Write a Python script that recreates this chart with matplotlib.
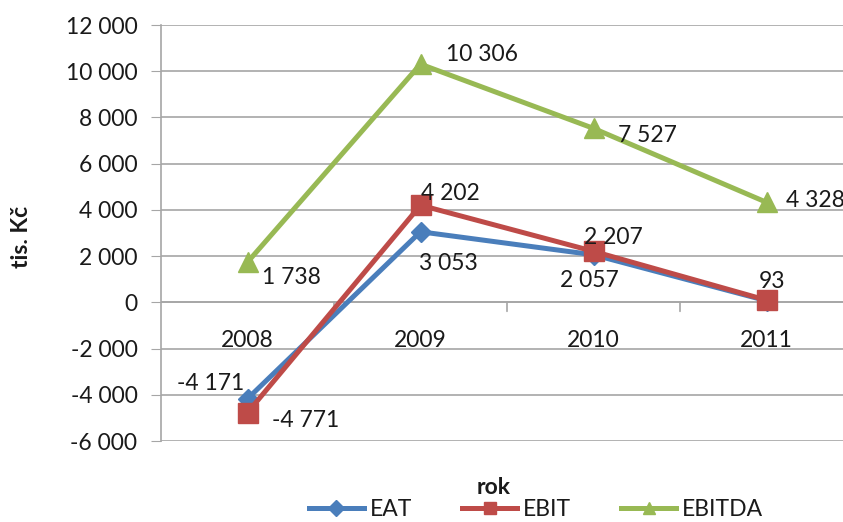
import matplotlib
matplotlib.use("Agg")
import matplotlib.pyplot as plt
from matplotlib.lines import Line2D
from matplotlib.ticker import FuncFormatter

plt.rcParams['font.family'] = ['Lato', 'DejaVu Sans']

years = ["2008", "2009", "2010", "2011"]
eat = [-4171, 3053, 2057, 70]
ebit = [-4771, 4202, 2207, 93]
ebitda = [1738, 10306, 7527, 4328]

# which points carry a value label (EAT 2011 is hidden under EBIT)
eat_labeled = [True, True, True, False]

colors = {"EAT": "#4A7EBB", "EBIT": "#BE4B48", "EBITDA": "#98B954"}
markers = {"EAT": "D", "EBIT": "s", "EBITDA": "^"}
text_color = "#1a1a1a"
grid_color = "#a6a6a6"
fs = 16.5

def fmt(v):
    s = f"{abs(int(v)):,}".replace(",", " ")
    return ("-" if v < 0 else "") + s

W, H = 843, 522
fig = plt.figure(figsize=(W / 100, H / 100), dpi=100)
ax = fig.add_axes([161 / W, 1 - 441 / H, 692 / W, 416 / H])

x = list(range(len(years)))
ax.plot(x, eat, color=colors["EAT"], lw=3.6, marker="D", ms=10, zorder=3)
ax.plot(x, ebit, color=colors["EBIT"], lw=3.6, marker="s", ms=14, zorder=4)
ax.plot(x, ebitda, color=colors["EBITDA"], lw=3.6, marker="^", ms=15, zorder=5)

ax.set_xlim(-0.5, 3.5)
ax.set_ylim(-6000, 12000)
ax.set_yticks(range(-6000, 12001, 2000))
ax.yaxis.set_major_formatter(FuncFormatter(lambda v, p: fmt(v)))
ax.grid(axis="y", color=grid_color, lw=1.2)
ax.set_axisbelow(True)
for side in ("top", "right", "bottom"):
    ax.spines[side].set_visible(False)
ax.spines["left"].set_color(grid_color)
ax.spines["left"].set_linewidth(1.2)
ax.tick_params(axis="y", length=7, color=grid_color, labelsize=fs, labelcolor=text_color, pad=10)

# category axis sits on the zero line
ax.axhline(0, color=grid_color, lw=1.2, zorder=1)
ax.set_xticks([])
for b in [0.5, 1.5, 2.5]:
    ax.annotate("", xy=(b, 0), xytext=(0, -9), textcoords="offset pixels",
                arrowprops=dict(arrowstyle="-", color=grid_color, lw=1.2,
                                shrinkA=0, shrinkB=0))
for xi, yr in zip(x, years):
    ax.annotate(yr, xy=(xi, 0), xytext=(0, -38), textcoords="offset pixels",
                ha="center", va="center", fontsize=fs, color=text_color)

def label(xi, v, dx, dy, ha="center"):
    ax.annotate(fmt(v), xy=(xi, v), xytext=(dx, dy), textcoords="offset pixels",
                ha=ha, va="center", fontsize=fs, color=text_color, zorder=6,
                annotation_clip=False)

# EAT labels
eat_off = [(-3, 15, "right"), (28, -32, "center"), (-4, -26, "center")]
for i, (dx, dy, ha) in enumerate(eat_off):
    if eat_labeled[i]:
        label(i, eat[i], dx, dy, ha)
# EBIT labels
ebit_off = [(24, -8, "left"), (30, 12, "center"), (20, 14, "center"), (6, 19, "center")]
for i, (dx, dy, ha) in enumerate(ebit_off):
    label(i, ebit[i], dx, dy, ha)
# EBITDA labels
ebitda_off = [(14, -15, "left"), (25, 10, "left"), (24, -7, "left"), (19, 2, "left")]
for i, (dx, dy, ha) in enumerate(ebitda_off):
    label(i, ebitda[i], dx, dy, ha)

fig.text(22 / W, 1 - 237 / H, "tis. Kč", rotation=90, ha="center", va="center",
         fontsize=fs, fontweight="bold", color=text_color)
fig.text(494 / W, 1 - 487 / H, "rok", ha="center", va="center",
         fontsize=fs, fontweight="bold", color=text_color)

# legend handles use smaller markers than the plotted series
handles = [Line2D([], [], color=colors[k], lw=3.6, marker=markers[k],
                  ms=8 if k != "EBIT" else 9) for k in ("EAT", "EBIT", "EBITDA")]
leg = fig.legend(handles, ["EAT", "EBIT", "EBITDA"], loc="center",
                 bbox_to_anchor=(536 / W, 1 - 510 / H),
                 ncol=3, frameon=False, fontsize=fs, handlelength=2.4,
                 handletextpad=0.25, columnspacing=2.2, borderpad=0)
for t in leg.get_texts():
    t.set_color(text_color)

fig.savefig("out.png", dpi=100)
